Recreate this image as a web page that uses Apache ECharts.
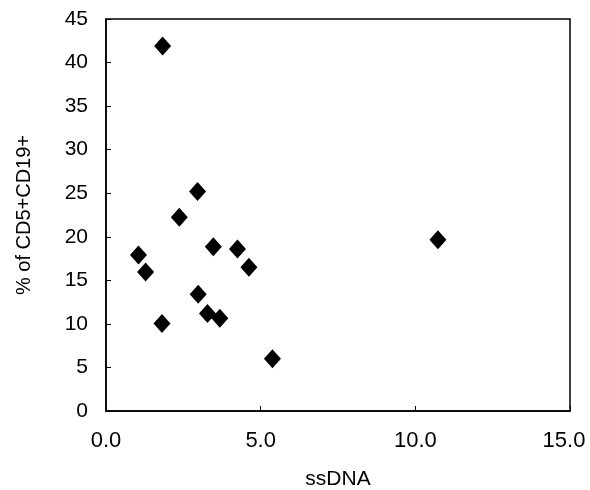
<!DOCTYPE html>
<html><head><meta charset="utf-8">
<script src="https://cdn.jsdelivr.net/npm/echarts@6/dist/echarts.min.js"></script>
<style>html,body{margin:0;padding:0;background:#fff}#c{width:590px;height:490px}</style>
</head><body><div id="c"></div>
<script>
const ssDNA = [1.83, 2.96, 2.37, 3.47, 4.25, 1.05, 4.62, 1.28, 2.98, 3.28, 3.68, 1.81, 5.38, 10.73];
const cd5cd19 = [41.9, 25.2, 22.25, 18.85, 18.6, 17.9, 16.5, 15.95, 13.4, 11.2, 10.65, 10.05, 6.0, 19.65];
const xTitle = 'ssDNA';
const yTitle = '% of CD5+CD19+';
const pts = ssDNA.map((x, i) => [x, cd5cd19[i]]);
const font = 'Liberation Sans, Arial, sans-serif';
const chart = echarts.init(document.getElementById('c'));
chart.setOption({
  animation: false,
  grid: {left: 106, right: 20, top: 19, bottom: 79, show: true, borderColor: '#000', borderWidth: 1.5,
         outerBoundsMode: 'none', containLabel: false},
  xAxis: {
    type: 'value', min: 0, max: 15, interval: 5,
    name: xTitle, nameLocation: 'middle', nameGap: 58,
    nameTextStyle: {fontSize: 21, color: '#000', fontFamily: font},
    axisLine: {lineStyle: {color: '#000', width: 1.5}},
    axisTick: {inside: true, length: 5, lineStyle: {color: '#000'}},
    axisLabel: {fontSize: 22, color: '#000', fontFamily: font, margin: 19,
      formatter: v => v === 15 ? '{r|' + v.toFixed(1) + '}' : v.toFixed(1),
      rich: {r: {fontSize: 22, color: '#000', fontFamily: font, padding: [0, 12, 0, 0]}}},
    splitLine: {show: false}
  },
  yAxis: {
    type: 'value', min: 0, max: 45, interval: 5,
    name: yTitle, nameLocation: 'middle', nameGap: 72,
    nameTextStyle: {fontSize: 20, color: '#000', fontFamily: font},
    axisLine: {lineStyle: {color: '#000', width: 1.5}},
    axisTick: {inside: true, length: 5, lineStyle: {color: '#000'}},
    axisLabel: {fontSize: 21, color: '#000', fontFamily: font, margin: 18},
    splitLine: {show: false}
  },
  series: [{
    type: 'scatter', data: pts, symbol: 'diamond', symbolSize: [17, 19],
    itemStyle: {color: '#000', opacity: 1}
  }]
});
</script></body></html>
